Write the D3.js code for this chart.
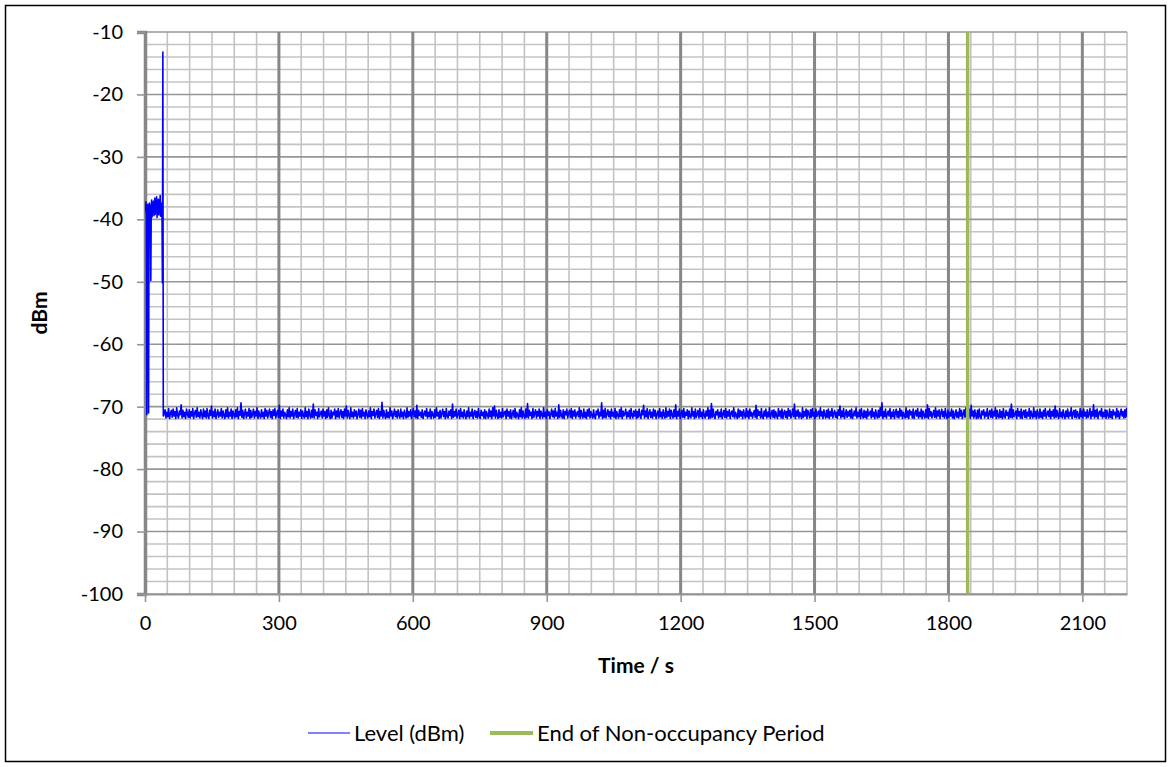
<!DOCTYPE html>
<html><head><meta charset="utf-8">
<script src="https://cdn.jsdelivr.net/npm/d3@7"></script>
<style>
body{margin:0;background:#fff}
svg{display:block}
text{font-family:Lato,"Liberation Sans",sans-serif;fill:#000}
</style>
</head><body>
<svg id="chart" width="1171" height="767"></svg>
<script>
// ---------- data ----------
const xTickValues = [0, 300, 600, 900, 1200, 1500, 1800, 2100];
const yTickValues = [-100, -90, -80, -70, -60, -50, -40, -30, -20, -10];
const xMinorStep = 50;
const yMinorStep = 2;

const headTimes = [0,1,2,3,4,5,6,7,8,9,10,11,12,13,14,15,16,17,18,19,20,21,22,23,24,25,26,27,28,29,30,31,32,33,34,35,36,37,38,39,40,41];
const headLevels = [-37.5,-38.6,-37.2,-39.5,-71.3,-38.4,-37.6,-39.8,-71.0,-38.2,-37.4,-39.1,-37.8,-49.8,-38.3,-36.9,-39.6,-37.5,-38.8,-37.1,-39.4,-38.0,-36.6,-39.2,-37.7,-38.9,-36.4,-39.7,-37.3,-38.5,-36.8,-39.3,-37.6,-38.7,-36.2,-39.5,-37.4,-38.1,-37.5,-50.2,-13.2,-71.5];

const tailStart = 43, tailStep = 2;
const tailLevels = [
-71.2,-70.5,-71.8,-70.9,-71.6,-70.3,-71.9,-71.1,-70.6,-71.7,-70.4,-71.5,-70.8,-71.9,-70.2,-71.4,-71.8,-70.7,-71.3,-69.7,-71.8,-70.6,-71.6,-70.9,
-71.9,-70.4,-71.2,-71.7,-70.5,-71.8,-70.8,-71.5,-70.3,-71.9,-71.0,-70.6,-71.7,-70.2,-71.6,-70.9,-71.8,-70.5,-71.3,-71.9,-70.4,-71.6,-70.7,-71.8,
-70.3,-71.5,-71.9,-70.6,-71.4,-69.9,-71.8,-70.8,-71.6,-70.4,-71.9,-71.2,-70.5,-71.7,-70.9,-71.5,-70.3,-71.8,-70.7,-71.4,-71.9,-70.5,-71.6,-70.2,
-71.8,-70.9,-71.5,-70.4,-71.9,-70.7,-71.3,-71.8,-70.5,-71.6,-70.2,-71.9,-70.8,-71.4,-69.4,-71.7,-70.6,-71.9,-71.1,-70.4,-71.8,-70.9,-71.5,-70.3,
-71.9,-70.6,-71.7,-71.2,-70.4,-71.8,-70.8,-71.5,-70.2,-71.9,-70.7,-71.4,-71.8,-70.5,-71.6,-70.9,-71.9,-70.3,-71.5,-70.6,-71.8,-71.0,-70.4,-71.7,
-70.8,-71.9,-70.5,-71.4,-70.3,-71.8,-71.1,-70.6,-71.7,-69.8,-71.9,-70.7,-71.5,-70.4,-71.8,-70.9,-71.3,-71.9,-70.5,-71.6,-70.2,-71.8,-70.8,-71.5,
-70.4,-71.9,-71.2,-70.6,-71.7,-70.3,-71.8,-70.9,-71.5,-70.5,-71.9,-70.7,-71.4,-71.8,-70.2,-71.6,-70.8,-71.9,-70.4,-71.3,-71.8,-70.6,-71.7,-69.6,
-71.8,-70.5,-71.4,-70.9,-71.9,-70.3,-71.6,-71.1,-70.7,-71.8,-70.4,-71.5,-70.8,-71.9,-70.5,-71.7,-70.2,-71.4,-71.9,-70.6,-71.8,-70.9,-71.3,-70.4,
-71.9,-70.7,-71.6,-70.3,-71.8,-71.0,-70.5,-71.7,-70.8,-71.9,-70.4,-71.5,-69.9,-71.8,-70.6,-71.4,-71.9,-70.2,-71.6,-70.9,-71.8,-70.5,-71.5,-70.7,
-71.9,-71.2,-70.4,-71.7,-70.6,-71.8,-70.3,-71.5,-70.9,-71.9,-70.5,-71.3,-71.8,-70.7,-71.6,-70.2,-71.9,-70.8,-71.4,-70.4,-71.8,-71.1,-70.6,-71.7,
-70.3,-71.9,-70.8,-71.5,-69.3,-71.8,-70.6,-71.4,-71.9,-70.5,-71.7,-70.9,-71.8,-70.2,-71.5,-70.7,-71.9,-71.2,-70.4,-71.6,-70.8,-71.8,-70.5,-71.4,
-71.8,-70.4,-71.6,-70.9,-71.9,-70.6,-71.3,-71.8,-70.2,-71.7,-70.8,-71.5,-70.5,-71.9,-71.0,-70.3,-71.6,-70.7,-71.8,-69.8,-71.9,-70.6,-71.4,-70.9,
-71.7,-70.5,-71.9,-71.2,-70.7,-71.5,-70.3,-71.8,-70.9,-71.6,-70.4,-71.9,-70.8,-71.3,-71.8,-70.5,-71.7,-70.2,-71.5,-70.9,-71.9,-70.6,-71.8,-71.1,
-70.4,-71.6,-70.8,-71.9,-70.3,-71.5,-71.8,-70.7,-71.4,-70.5,-71.9,-69.6,-71.7,-70.8,-71.5,-70.4,-71.8,-71.2,-70.6,-71.9,-70.3,-71.6,-70.9,-71.8,
-70.5,-71.4,-71.9,-70.7,-71.6,-70.2,-71.8,-70.9,-71.5,-70.4,-71.9,-71.1,-70.6,-71.7,-70.8,-71.8,-70.3,-71.5,-71.9,-70.6,-71.4,-70.9,-71.8,-70.5,
-71.9,-70.8,-71.3,-71.8,-70.4,-71.6,-70.7,-71.9,-70.2,-71.5,-69.9,-71.8,-70.6,-71.4,-71.9,-70.5,-71.7,-70.9,-71.8,-70.3,-71.6,-71.0,-70.7,-71.9,
-70.4,-71.5,-70.8,-71.8,-70.5,-71.9,-71.2,-70.6,-71.7,-70.3,-71.8,-70.9,-71.4,-71.9,-70.5,-71.6,-70.2,-71.8,-70.7,-71.5,-71.9,-70.4,-71.7,-69.5,
-71.8,-70.6,-71.4,-70.9,-71.9,-70.3,-71.7,-71.1,-70.5,-71.8,-70.8,-71.5,-70.4,-71.9,-70.7,-71.3,-71.8,-70.2,-71.6,-70.9,-71.9,-70.5,-71.4,-70.8,
-71.9,-71.2,-70.4,-71.6,-70.7,-71.8,-70.3,-71.5,-70.9,-71.9,-69.7,-71.7,-70.6,-71.4,-71.8,-70.5,-71.9,-70.8,-71.3,-70.4,-71.8,-71.0,-70.6,-71.7,
-70.3,-71.9,-70.7,-71.5,-70.5,-71.8,-71.1,-70.8,-71.6,-70.2,-71.9,-70.6,-71.4,-71.8,-70.4,-71.7,-70.9,-71.9,-70.5,-71.5,-70.3,-71.8,-70.8,-71.4,
-71.8,-70.5,-71.6,-71.9,-70.7,-71.3,-70.4,-71.8,-70.9,-71.5,-69.4,-71.9,-70.6,-71.7,-70.3,-71.8,-71.2,-70.5,-71.6,-70.8,-71.9,-70.4,-71.5,-70.9,
-71.7,-70.3,-71.9,-70.8,-71.4,-71.8,-70.5,-71.6,-70.2,-71.9,-70.7,-71.5,-71.1,-70.4,-71.8,-70.9,-71.6,-70.6,-71.9,-70.3,-71.4,-71.8,-70.7,-71.5,
-70.5,-71.9,-70.8,-71.7,-70.4,-71.5,-71.9,-70.6,-71.3,-69.8,-71.8,-70.7,-71.6,-70.3,-71.9,-71.0,-70.5,-71.7,-70.9,-71.8,-70.4,-71.5,-70.6,-71.9,
-71.2,-70.7,-71.8,-70.3,-71.6,-70.9,-71.9,-70.5,-71.4,-71.8,-70.2,-71.7,-70.8,-71.5,-70.4,-71.9,-70.6,-71.3,-71.8,-70.5,-71.6,-69.7,-71.9,-70.8,
-71.5,-70.4,-71.9,-71.1,-70.6,-71.7,-70.3,-71.8,-70.9,-71.4,-70.5,-71.9,-70.7,-71.6,-71.8,-70.2,-71.5,-70.8,-71.9,-70.4,-71.7,-71.2,-70.6,-71.8,
-70.3,-71.6,-70.9,-71.9,-70.5,-71.4,-71.8,-70.7,-71.5,-70.2,-71.9,-70.6,-71.8,-69.5,-71.7,-70.4,-71.5,-71.9,-70.8,-71.3,-70.5,-71.8,-70.9,-71.6,
-70.4,-71.9,-71.2,-70.6,-71.7,-70.3,-71.8,-70.8,-71.5,-70.5,-71.9,-71.0,-70.7,-71.6,-70.2,-71.8,-70.9,-71.4,-71.9,-70.4,-71.7,-70.6,-71.5,-70.8,
-71.9,-70.5,-71.3,-71.8,-70.3,-71.6,-70.7,-71.9,-70.4,-71.5,-70.9,-71.8,-71.1,-70.6,-71.7,-69.8,-71.9,-70.5,-71.4,-70.8,-71.8,-70.3,-71.6,-71.9,
-70.7,-71.5,-70.4,-71.8,-70.9,-71.6,-70.2,-71.9,-71.2,-70.6,-71.7,-70.5,-71.8,-70.8,-71.4,-71.9,-70.3,-71.5,-70.7,-71.8,-70.4,-71.9,-71.0,-70.6,
-71.7,-70.8,-71.9,-70.3,-71.5,-70.6,-71.8,-71.3,-70.4,-71.6,-69.6,-71.9,-70.7,-71.5,-70.5,-71.8,-70.9,-71.4,-71.9,-70.2,-71.7,-70.8,-71.5,-70.4,
-71.9,-70.6,-71.2,-71.8,-70.5,-71.7,-70.3,-71.5,-70.9,-71.9,-70.4,-71.6,-71.1,-70.7,-71.8,-70.2,-71.5,-70.8,-71.9,-70.5,-71.4,-71.8,-70.6,-71.7,
-70.4,-71.9,-70.8,-71.5,-70.3,-71.8,-71.0,-70.6,-71.7,-70.9,-71.9,-70.5,-71.4,-69.9,-71.8,-70.7,-71.6,-70.3,-71.9,-71.2,-70.5,-71.7,-70.8,-71.5,
-70.6,-71.8,-70.4,-71.9,-71.3,-70.7,-71.5,-70.2,-71.8,-70.9,-71.6,-70.5,-71.9,-70.3,-71.4,-71.8,-70.6,-71.7,-70.8,-71.9,-70.4,-71.5,-71.1,-70.7,
-71.8,-70.3,-71.6,-70.9,-71.9,-70.5,-71.4,-71.8,-70.6,-71.7,-70.2,-71.5,-69.4,-71.9,-70.8,-71.6,-70.4,-71.8,-71.2,-70.7,-71.5,-70.3,-71.9,-70.9,
-71.6,-70.5,-71.9,-71.0,-70.4,-71.7,-70.8,-71.8,-70.3,-71.5,-70.6,-71.9,-70.9,-71.4,-71.8,-70.2,-71.7,-70.7,-71.9,-70.5,-71.3,-70.8,-71.8,-70.4,
-71.9,-71.1,-70.6,-71.5,-70.3,-71.8,-70.9,-71.6,-70.4,-71.9,-70.7,-71.4,-71.8,-70.5,-71.7,-69.7,-71.9,-70.3,-71.5,-70.8,-71.8,-71.2,-70.6,-71.7,
-70.2,-71.8,-70.7,-71.5,-70.5,-71.9,-71.0,-70.4,-71.6,-70.8,-71.8,-70.3,-71.4,-71.9,-70.6,-71.7,-70.9,-71.5,-70.4,-71.8,-70.7,-71.9,-71.3,-70.5,
-71.7,-70.9,-71.8,-70.3,-71.5,-70.6,-71.9,-71.2,-70.5,-71.7,-70.2,-71.8,-70.8,-71.6,-70.4,-71.9,-69.8,-71.5,-70.7,-71.8,-70.5,-71.4,-71.9,-70.6,
-71.8,-70.4,-71.6,-71.9,-70.7,-71.3,-70.5,-71.8,-70.9,-71.5,-70.3,-71.9,-71.1,-70.6,-71.7,-70.4,-71.8,-70.8,-71.5,-70.2,-71.9,-70.6,-71.6,-71.8,
-70.5,-71.7,-70.8,-71.9,-70.3,-71.5,-71.8,-70.6,-71.4,-70.9,-71.9,-70.4,-71.7,-69.6,-71.8,-70.5,-71.6,-71.2,-70.7,-71.9,-70.3,-71.5,-70.8,-71.8,
-70.4,-71.9,-71.0,-70.6,-71.7,-70.5,-71.8,-70.9,-71.5,-70.3,-71.9,-70.7,-71.4,-71.8,-70.2,-71.6,-70.8,-71.9,-70.5,-71.3,-71.8,-70.4,-71.7,-70.9,
-71.9,-70.6,-71.5,-70.3,-71.8,-71.2,-70.7,-71.6,-70.4,-71.9,-70.8,-71.5,-70.5,-71.8,-69.9,-71.7,-70.6,-71.4,-71.9,-70.3,-71.6,-70.9,-71.8,-70.5,
-71.4,-71.9,-70.7,-71.6,-70.4,-71.8,-70.9,-71.5,-70.2,-71.9,-71.1,-70.6,-71.7,-70.5,-71.8,-70.8,-71.4,-71.9,-70.3,-71.6,-70.7,-71.8,-70.4,-71.5,
-70.9,-71.8,-70.5,-71.7,-71.2,-70.3,-71.9,-70.8,-71.5,-69.7,-71.8,-70.6,-71.6,-70.4,-71.9,-71.0,-70.7,-71.5,-70.3,-71.8,-70.9,-71.6,-70.5,-71.9,
-70.6,-71.4,-71.8,-70.4,-71.7,-70.8,-71.9,-70.5,-71.3,-70.9,-71.8,-70.3,-71.6,-70.7,-71.9,-71.2,-70.4,-71.5,-70.8,-71.8,-70.5,-71.7,-70.3,-71.6
];

const endOfNonOccupancy = 1843;
const seriesNames = ["Level (dBm)", "End of Non-occupancy Period"];
const seriesColors = ["#0000ff", "#9bbb59"];
const xTitle = "Time / s";
const yTitle = "dBm";

// ---------- build series ----------
const levelSeries = headTimes.map((t, i) => ({t, v: headLevels[i]}))
  .concat(tailLevels.map((v, i) => ({t: tailStart + i * tailStep, v})));

// ---------- layout ----------
const svg = d3.select("#chart");
const W = 1171, H = 767;
const plot = {left: 145, right: 1127, top: 32, bottom: 594};

svg.append("rect").attr("x", 5.5).attr("y", 5.5).attr("width", W - 11).attr("height", H - 11)
  .attr("fill", "#fff").attr("stroke", "#000").attr("stroke-width", 1.5);

const x = d3.scaleLinear().domain([0, 2200]).range([plot.left, plot.right]);
const y = d3.scaleLinear().domain([-100, -10]).range([plot.bottom, plot.top]);

svg.append("clipPath").attr("id", "plotClip").append("rect")
  .attr("x", plot.left).attr("y", plot.top - 20).attr("width", plot.right - plot.left).attr("height", plot.bottom - plot.top + 20);

const g = svg.append("g");

// minor grid
const xMinor = d3.range(0, 2200 + 1, xMinorStep).filter(v => v % 300 !== 0);
const yMinor = d3.range(-100, -10 + 0.1, yMinorStep).filter(v => v % 10 !== 0);
g.append("g").selectAll("line").data(xMinor).join("line")
  .attr("x1", d => x(d)).attr("x2", d => x(d)).attr("y1", plot.top).attr("y2", plot.bottom)
  .attr("stroke", "#c3c3c3").attr("stroke-width", 1.6);
g.append("g").selectAll("line").data(yMinor).join("line")
  .attr("x1", plot.left).attr("x2", plot.right).attr("y1", d => y(d)).attr("y2", d => y(d))
  .attr("stroke", "#c3c3c3").attr("stroke-width", 1.6);

// major horizontal grid
g.append("g").selectAll("line").data(yTickValues).join("line")
  .attr("x1", plot.left).attr("x2", plot.right).attr("y1", d => y(d)).attr("y2", d => y(d))
  .attr("stroke", "#969696").attr("stroke-width", 1.6);
// major vertical grid
g.append("g").selectAll("line").data(xTickValues.filter(v => v > 0)).join("line")
  .attr("x1", d => x(d)).attr("x2", d => x(d)).attr("y1", plot.top).attr("y2", plot.bottom)
  .attr("stroke", "#878787").attr("stroke-width", 3);

// axes
const yAxis = d3.axisLeft(y).tickValues(yTickValues).tickSize(8).tickPadding(14).tickFormat(d => String(d));
const yG = svg.append("g").attr("transform", `translate(${plot.left},0)`).call(yAxis);
yG.select(".domain").attr("stroke", "#878787").attr("stroke-width", 3.5);
yG.selectAll(".tick line").attr("stroke", "#969696").attr("stroke-width", 1.6);
yG.selectAll("text").attr("font-size", 20).style("font-family", "Lato");

const xAxis = d3.axisBottom(x).tickValues(xTickValues).tickSize(8).tickSizeOuter(0).tickPadding(14).tickFormat(d => String(d));
const xG = svg.append("g").attr("transform", `translate(0,${plot.bottom})`).call(xAxis);
xG.select(".domain").attr("stroke", "#969696").attr("stroke-width", 2);
xG.selectAll(".tick line").attr("stroke", "#969696").attr("stroke-width", 1.6);
xG.selectAll("text").attr("font-size", 20).style("font-family", "Lato");

// axis titles
svg.append("text").attr("x", (plot.left + plot.right) / 2).attr("y", 673)
  .attr("text-anchor", "middle").attr("font-size", 21).attr("font-weight", "bold").text(xTitle);
svg.append("text").attr("transform", `translate(47,${(plot.top + plot.bottom) / 2}) rotate(-90)`)
  .attr("text-anchor", "middle").attr("font-size", 21).attr("font-weight", "bold").text(yTitle);

// level line
const line = d3.line().x(d => x(d.t)).y(d => y(d.v));
svg.append("path").datum(levelSeries).attr("d", line).attr("clip-path", "url(#plotClip)")
  .attr("fill", "none").attr("stroke", seriesColors[0]).attr("stroke-width", 1.6).attr("stroke-linejoin", "round");

// end of non-occupancy line
svg.append("line").attr("x1", x(endOfNonOccupancy)).attr("x2", x(endOfNonOccupancy))
  .attr("y1", y(-100)).attr("y2", y(-10))
  .attr("stroke", seriesColors[1]).attr("stroke-width", 3.5);

// legend
const legend = svg.append("g").attr("transform", "translate(0,733)");
const legendItems = [
  {x0: 308, x1: 350, tx: 354, w: 1.2},
  {x0: 490, x1: 533, tx: 537, w: 4}
];
legendItems.forEach((it, i) => {
  legend.append("line").attr("x1", it.x0).attr("x2", it.x1).attr("y1", 0).attr("y2", 0)
    .attr("stroke", seriesColors[i]).attr("stroke-width", it.w);
  legend.append("text").attr("x", it.tx).attr("y", 0).attr("dy", "0.35em")
    .attr("font-size", 22).text(seriesNames[i]);
});
</script>
</body></html>
